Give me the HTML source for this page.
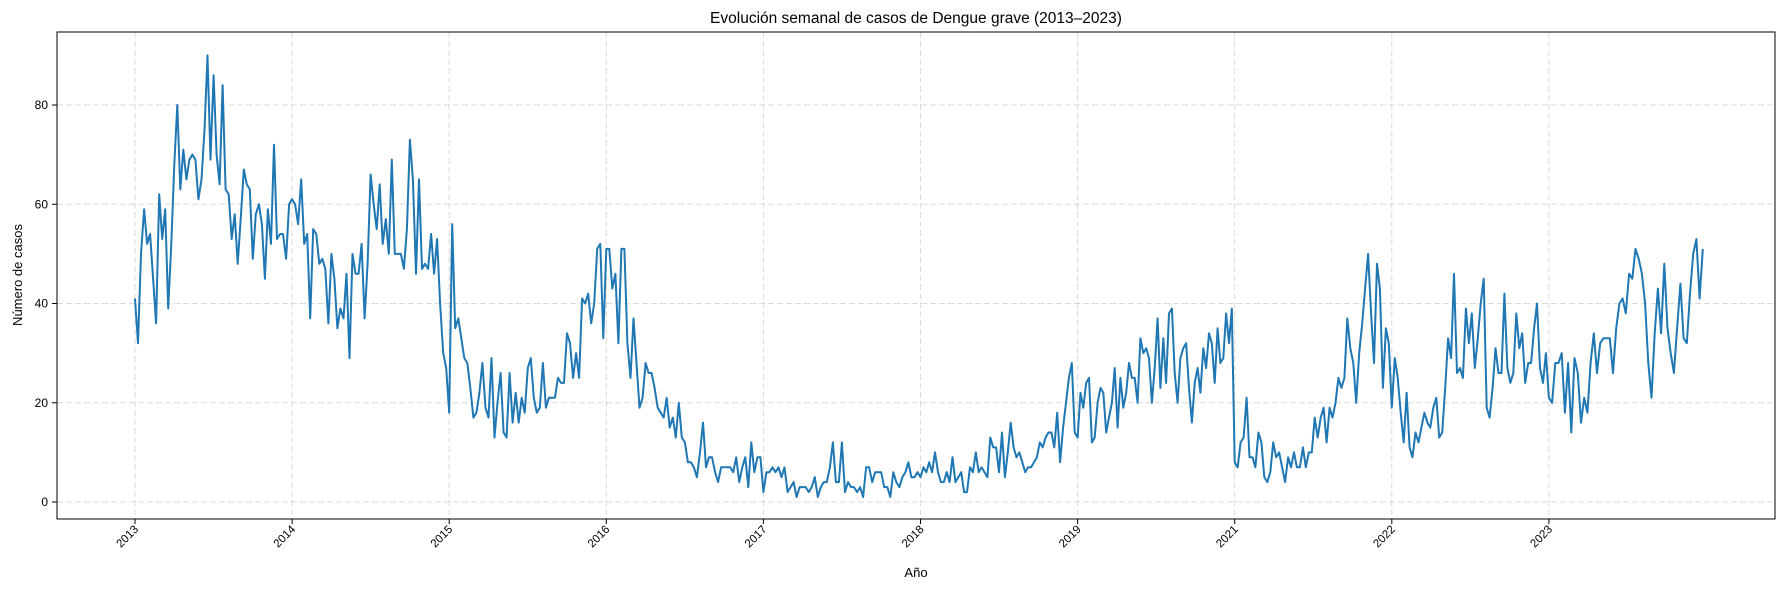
<!DOCTYPE html>
<html><head><meta charset="utf-8"><style>
html,body{margin:0;padding:0;background:#fff;}
svg{display:block;font-family:"Liberation Sans","DejaVu Sans",sans-serif;}
</style></head><body>
<svg id="chart" width="1790" height="590" viewBox="0 0 1790 590" xmlns="http://www.w3.org/2000/svg">
<rect width="1790" height="590" fill="#fff"/>
<text x="916" y="23" text-anchor="middle" font-size="15.5" fill="#000">Evolución semanal de casos de Dengue grave (2013–2023)</text>
<g id="grid"></g><g id="series"></g><g id="axes"></g>
<text x="916" y="577" text-anchor="middle" font-size="13" fill="#000">Año</text>
<text transform="translate(22,275) rotate(-90)" text-anchor="middle" font-size="13" fill="#000">Número de casos</text>
</svg>
<script>
const yearLabels=["2013","2014","2015","2016","2017","2018","2019","2021","2022","2023"];
const yTicks=[0,20,40,60,80];
const v2013=[41,32,50,59,52,54,45,36,62,53,59,39,52,68,80,63,71,65,69,70,69,61,65,75,90,69,86,70,64,84,63,62,53,58,48,57,67,64,63,49,58,60,56,45,59,52,72,53,54,54,49,60];
const v2014=[61,60,56,65,52,54,37,55,54,48,49,47,36,50,45,35,39,37,46,29,50,46,46,52,37,48,66,60,55,64,52,57,50,69,50,50,50,47,55,73,65,46,65,47,48,47,54,46,53,40,30,27];
const v2015=[18,56,35,37,33,29,28,23,17,18,22,28,19,17,29,13,20,26,14,13,26,16,22,16,21,18,27,29,21,18,19,28,19,21,21,21,25,24,24,34,32,25,30,25,41,40,42,36,40,51,52,33];
const v2016=[51,51,43,46,32,51,51,32,25,37,28,19,21,28,26,26,23,19,18,17,21,15,17,13,20,13,12,8,8,7,5,10,16,7,9,9,6,4,7,7,7,7,6,9,4,7,9,3,12,6,9,9];
const v2017=[2,6,6,7,6,7,5,7,2,3,4,1,3,3,3,2,3,5,1,3,4,4,7,12,4,4,12,2,4,3,3,2,3,1,7,7,4,6,6,6,3,3,1,6,4,3,5,6,8,5,5,6];
const v2018=[5,7,6,8,6,10,6,4,4,6,4,9,4,5,6,2,2,7,6,10,6,7,6,5,13,11,11,6,14,5,10,16,11,9,10,8,6,7,7,8,9,12,11,13,14,14,11,18,8,15,20,25,28,14];
const v2019=[13,22,19,24,25,12,13,20,23,22,14,17,20,27,15,25,19,22,28,25,25,20,33,30,31,29,20,27,37,23,33,24,38,39,26,20,29,31,32,23,16,24,27,22,31,27,34,32,24,35,28,29,38,32,39];
const v2021=[8,7,12,13,21,9,9,7,14,12,5,4,6,12,9,10,7,4,9,7,10,7,7,11,7,10,10,17,13,17,19,12,19,17,20,25,23,25,37,31,28,20,30,36,43,50,38,28,48,43,23,35,32];
const v2022=[19,29,25,18,12,22,11,9,14,12,15,18,16,15,19,21,13,14,23,33,29,46,26,27,25,39,32,38,27,33,40,45,19,17,23,31,26,26,42,27,24,26,38,31,34,24,28,28,35,40,27,24,30];
const v2023=[21,20,28,28,30,18,28,14,29,26,16,21,18,28,34,26,32,33,33,33,26,35,40,41,38,46,45,51,49,46,40,28,21,34,43,34,48,35,30,26,35,44,33,32,42,50,53,41,51];
const yearValues=[v2013,v2014,v2015,v2016,v2017,v2018,v2019,v2021,v2022,v2023];

const NS="http://www.w3.org/2000/svg";
const L=57,R=1775,T=32,B=519;
const x=t=>135+t*157.1;
const y=v=>502-v*4.9625;
function mk(tag,attrs,parent){const e=document.createElementNS(NS,tag);for(const k in attrs)e.setAttribute(k,attrs[k]);parent.appendChild(e);return e;}
const grid=document.getElementById('grid'),axes=document.getElementById('axes'),series=document.getElementById('series');
yTicks.forEach(v=>{
  const g=mk('line',{x1:L,x2:R,y1:y(v),y2:y(v),stroke:'#b0b0b0','stroke-opacity':0.45,'stroke-dasharray':'6,3','stroke-width':1},grid);
  
  
  const tk=mk('line',{x1:L-5,x2:L,y1:y(v),y2:y(v),stroke:'#000','stroke-width':1},axes);
  
  
  const t=mk('text',{x:L-9,y:y(v)+4,'text-anchor':'end','font-size':12,fill:'#000'},axes);
  t.textContent=v;
  
  
});
yearLabels.forEach((lab,i)=>{
  const xx=x(i);
  const g=mk('line',{x1:xx,x2:xx,y1:T,y2:B,stroke:'#b0b0b0','stroke-opacity':0.45,'stroke-dasharray':'6,3','stroke-width':1},grid);
  
  
  const tk=mk('line',{x1:xx,x2:xx,y1:B,y2:B+5,stroke:'#000','stroke-width':1},axes);
  
  
  const t=mk('text',{transform:`translate(${xx+4},${B+11}) rotate(-45)`,'text-anchor':'end','font-size':11.5,fill:'#000'},axes);
  t.textContent=lab;
  
  
});
let pts=[];
yearValues.forEach((arr,i)=>{arr.forEach((v,j)=>{pts.push(x(i+j/arr.length).toFixed(1)+','+y(v).toFixed(1));});});
const line=mk('polyline',{points:pts.join(' '),fill:'none',stroke:'#1f77b4','stroke-width':2,'stroke-linejoin':'round'},series);


const frame=mk('rect',{x:L,y:T,width:R-L,height:B-T,fill:'none',stroke:'#000','stroke-width':1},axes);


</script>
</body></html>
